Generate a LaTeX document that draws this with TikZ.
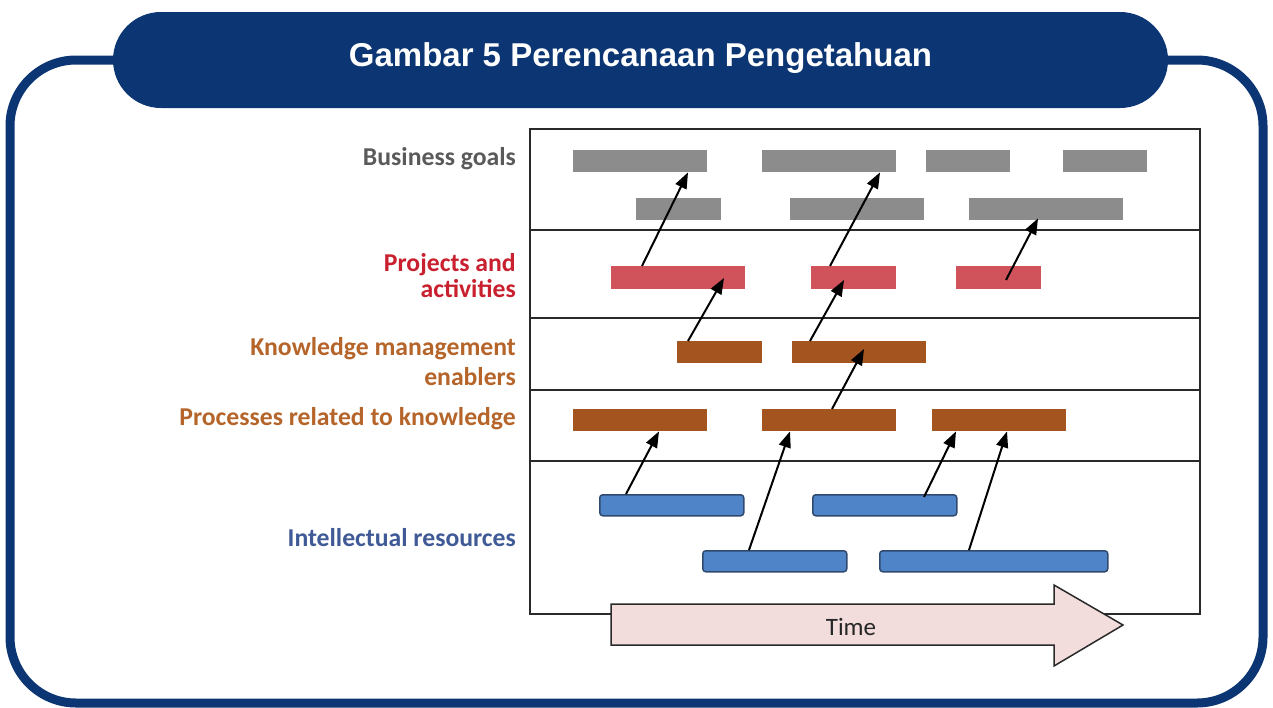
\documentclass[tikz,border=0pt]{standalone}
\usepackage{fontspec}
\setmainfont{Carlito}
\newfontfamily\titlefont{Liberation Sans}
\usetikzlibrary{arrows.meta,calc}
\definecolor{navy}{HTML}{0B3573}
\definecolor{bargray}{HTML}{8C8C8C}
\definecolor{barred}{HTML}{D0525A}
\definecolor{barbrown}{HTML}{A3541F}
\definecolor{barblue}{HTML}{4F84C8}
\definecolor{bluedge}{HTML}{2F4A6E}
\definecolor{timefill}{HTML}{F2DCDC}
\definecolor{edgegray}{HTML}{2A2A2A}
\definecolor{txtgray}{HTML}{5A5A5A}
\definecolor{txtred}{HTML}{C8202E}
\definecolor{txtbrown}{HTML}{B5642A}
\definecolor{txtblue}{HTML}{3F5A96}
\tikzset{
  bar/.style={rectangle, inner sep=0pt, anchor=north west, minimum height=22pt},
  gbar/.style={bar, fill=bargray},
  rbar/.style={bar, fill=barred, minimum height=23pt},
  obar/.style={bar, fill=barbrown},
  bbar/.style={bar, fill=barblue, draw=bluedge, line width=1.5pt, rounded corners=3pt, minimum height=21pt},
  link/.style={-{Triangle[length=16pt,width=12pt]}, line width=2pt, black},
  lab/.style={anchor=east, align=right, inner sep=0pt, font=\bfseries\fontsize{25.7}{26}\selectfont},
}
\begin{document}
\begin{tikzpicture}[x=1pt,y=-1pt]
\useasboundingbox (0,0) rectangle (1273,707);
% outer frame
\draw[navy, line width=9pt, rounded corners=66pt] (10,60) rectangle (1263,703);
% title banner
\fill[navy, rounded corners=48pt] (113,12) rectangle (1168,108);
\node[text=white, font=\titlefont\bfseries\fontsize{33}{36}\selectfont] (title) at (640.5,58) {Gambar 5 Perencanaan Pengetahuan};
% main box
\draw[line width=2.7pt, edgegray] (530,129) rectangle (1200,614);
\foreach \yy in {230,318,390,461} \draw[line width=2.7pt, edgegray] (530,\yy) -- (1200,\yy);
% labels
\node[lab, text=txtgray] (lbg) at (516,159) {Business goals};
\node[lab, text=txtred] (lpa) at (516,276) {Projects and\\activities};
\node[lab, text=txtbrown, font=\bfseries\fontsize{25.7}{30}\selectfont] (lkm) at (516,362) {Knowledge management\\enablers};
\node[lab, text=txtbrown] (lpr) at (516,419) {Processes related to knowledge};
\node[lab, text=txtblue] (lir) at (516,538) {Intellectual resources};
% business goals
\node[gbar, minimum width=134pt] (g1) at (573,150) {};
\node[gbar, minimum width=134pt] (g2) at (762,150) {};
\node[gbar, minimum width=84pt] (g3) at (926,150) {};
\node[gbar, minimum width=84pt] (g4) at (1063,150) {};
\node[gbar, minimum width=85pt] (g5) at (636,198) {};
\node[gbar, minimum width=134pt] (g6) at (790,198) {};
\node[gbar, minimum width=154pt] (g7) at (969,198) {};
% projects
\node[rbar, minimum width=134pt] (r1) at (611,266) {};
\node[rbar, minimum width=85pt] (r2) at (811,266) {};
\node[rbar, minimum width=85pt] (r3) at (956,266) {};
% KM enablers
\node[obar, minimum width=85pt] (k1) at (677,341) {};
\node[obar, minimum width=134pt] (k2) at (792,341) {};
% processes
\node[obar, minimum width=134pt] (p1) at (573,409) {};
\node[obar, minimum width=134pt] (p2) at (762,409) {};
\node[obar, minimum width=134pt] (p3) at (932,409) {};
% intellectual resources
\node[bbar, minimum width=144pt] (b1) at (599,494) {};
\node[bbar, minimum width=144pt] (b2) at (812,494) {};
\node[bbar, minimum width=144pt] (b3) at (702,550) {};
\node[bbar, minimum width=228pt] (b4) at (879,550) {};
% arrows
\draw[link] ([xshift=31pt]r1.north west) -- ([xshift=115pt]g1.south west);
\draw[link] ([xshift=19pt]r2.north west) -- ([xshift=118pt]g2.south west);
\draw[link] ([xshift=50pt,yshift=-14pt]r3.north west) -- ([xshift=69pt,yshift=2pt]g7.south west);
\draw[link] ([xshift=11pt]k1.north west) -- ([xshift=113pt,yshift=-12pt]r1.north west);
\draw[link] ([xshift=18pt]k2.north west) -- ([xshift=33pt,yshift=-14pt]r2.north west);
\draw[link] ([xshift=70pt]p2.north west) -- ([xshift=72pt,yshift=-8pt]k2.north west);
\draw[link] ([xshift=27pt]b1.north west) -- ([xshift=86pt]p1.south west);
\draw[link] ([xshift=47pt]b3.north west) -- ([xshift=28pt]p2.south west);
\draw[link] ([xshift=112pt,yshift=-3pt]b2.north west) -- ([xshift=24pt]p3.south west);
\draw[link] ([xshift=90pt]b4.north west) -- ([xshift=75pt]p3.south west);
% time arrow
\draw[fill=timefill, draw=edgegray, line width=1.5pt, line join=miter]
  (611,604) -- (1054,604) -- (1054,585) -- (1123,625) -- (1054,666) -- (1054,645) -- (611,645) -- cycle;
\node[font=\fontsize{25}{28}\selectfont, text=black!85] (time) at (851,627) {Time};
\end{tikzpicture}
\end{document}
